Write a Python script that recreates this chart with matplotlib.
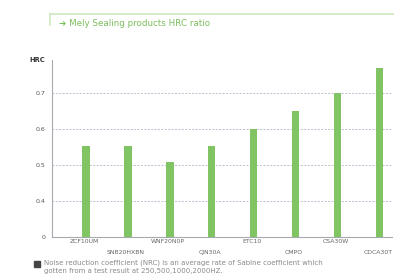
import matplotlib
matplotlib.use("Agg")
import matplotlib.pyplot as plt
from matplotlib.lines import Line2D
from matplotlib.patches import Rectangle

categories = ["ZCF10UM", "SNB20HXBN", "WNF20N0P", "CJN30A", "ETC10", "CMPO", "CSA30W", "CDCA30T"]
values = [0.553, 0.553, 0.508, 0.553, 0.600, 0.650, 0.700, 0.770]
ytick_vals = [0.3, 0.4, 0.5, 0.6, 0.7]
ytick_labels = ["0", "0.4", "0.5", "0.6", "0.7"]
title = "Mely Sealing products HRC ratio"
note = ("Noise reduction coefficient (NRC) is an average rate of Sabine coefficient which\n"
        "gotten from a test result at 250,500,1000,2000HZ.")

W, H = 394, 280
fig = plt.figure(figsize=(W / 100, H / 100), dpi=100)
fig.patch.set_facecolor("white")

left, right, top, bottom = 52, 392, 60, 237
ax = fig.add_axes([left / W, 1 - bottom / H, (right - left) / W, (bottom - top) / H])
x = list(range(len(categories)))
ax.bar(x, values, width=0.17, color="#80c463", zorder=3)
ax.set_xlim(-0.81, 7.29)
ax.set_ylim(0.3, 0.3 + (bottom - top) / 360)
ax.set_yticks(ytick_vals)
ax.set_yticklabels(ytick_labels, fontsize=4.5, color="#555555")
ax.tick_params(axis="y", length=0, pad=5)
ax.set_xticks(x)
ax.set_xticklabels([])
ax.tick_params(axis="x", length=0)
for i, c in enumerate(categories):
    off = 0.005 if i % 2 == 0 else 0.035
    ax.text(i - 0.05, 0.3 - off, c, ha="center", va="top",
            fontsize=4.4, color="#666666", transform=ax.transData, clip_on=False)
for v in ytick_vals[1:]:
    ax.axhline(v, color="#bcc0d0", lw=0.7, ls=(0, (2, 1.5)), zorder=1)
for s in ["top", "right"]:
    ax.spines[s].set_visible(False)
ax.spines["left"].set_color("#a8a8b0")
ax.spines["bottom"].set_color("#a8a8b0")
ax.spines["left"].set_linewidth(0.8)
ax.spines["bottom"].set_linewidth(0.8)

fig.text(29 / W, 1 - 60 / H, "HRC", fontsize=4.8, fontweight="bold", color="#333333",
         ha="left", va="center")

# title frame
fig.add_artist(Line2D([50 / W, 1], [1 - 14 / H, 1 - 14 / H], color="#cde8c0", lw=1.2))
fig.add_artist(Line2D([50 / W, 50 / W], [1 - 14 / H, 1 - 25 / H], color="#cde8c0", lw=1.2))
fig.text(59 / W, 1 - 23 / H, "\u2794 " + title, fontsize=6.3, color="#7cbf5e",
         ha="left", va="center", family=["DejaVu Sans"])

# footnote
fig.add_artist(Rectangle((34 / W, 1 - 267 / H), 6 / W, 6 / H, color="#444444",
                         transform=fig.transFigure))
fig.text(44 / W, 1 - 260 / H, note, fontsize=5.0, color="#8a8a8a", ha="left", va="top",
         linespacing=1.4)

fig.savefig("out.png", dpi=100, facecolor="white")
